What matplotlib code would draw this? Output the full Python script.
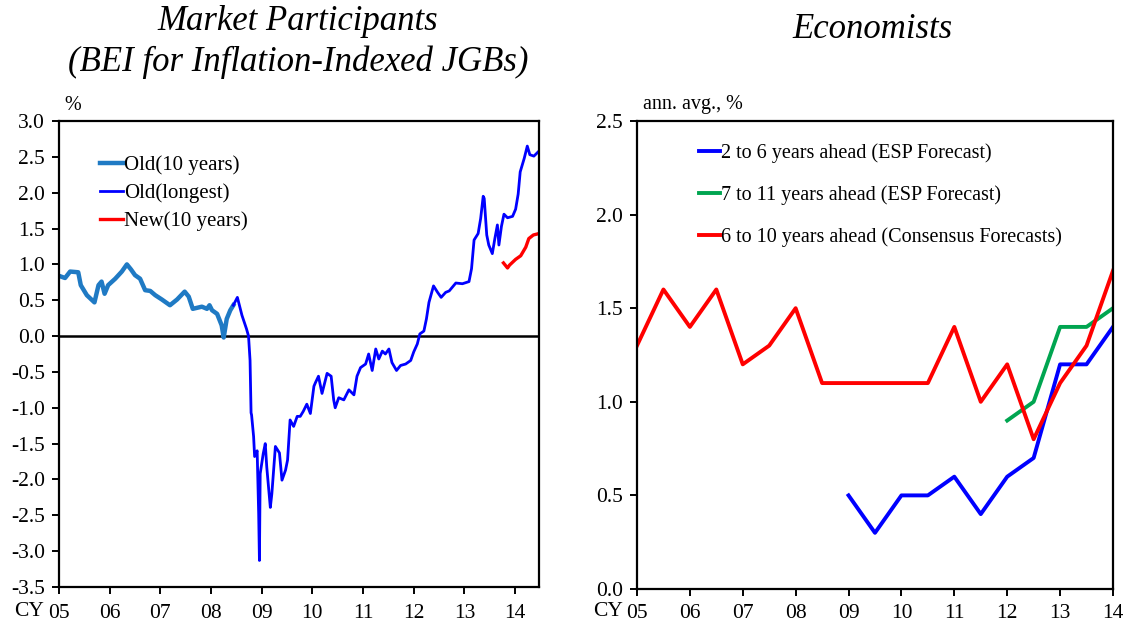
import matplotlib

matplotlib.use("Agg")
import matplotlib.pyplot as plt

plt.rcParams["font.family"] = ["Liberation Serif", "DejaVu Serif"]

# left panel: BEI (year, %)
old10_x = [2005.00, 2005.12, 2005.22, 2005.38, 2005.43, 2005.55, 2005.70, 2005.78, 2005.84, 2005.90,
           2005.97, 2006.11, 2006.24, 2006.34, 2006.42, 2006.50, 2006.60, 2006.70, 2006.80, 2006.90,
           2007.03, 2007.19, 2007.33, 2007.48, 2007.56, 2007.64, 2007.82, 2007.92, 2007.97, 2008.02,
           2008.12, 2008.21, 2008.25, 2008.31, 2008.38, 2008.44]
old10_y = [0.84, 0.81, 0.90, 0.89, 0.71, 0.57, 0.47, 0.71, 0.76, 0.59,
           0.71, 0.80, 0.90, 1.00, 0.93, 0.85, 0.80, 0.64, 0.63, 0.57,
           0.51, 0.43, 0.51, 0.62, 0.55, 0.38, 0.41, 0.38, 0.43, 0.36,
           0.31, 0.15, -0.02, 0.24, 0.36, 0.43]

longest_x = [2008.44, 2008.52, 2008.61, 2008.70, 2008.74, 2008.77, 2008.79, 2008.80, 2008.84, 2008.86,
             2008.91, 2008.94, 2008.955, 2008.97, 2009.03, 2009.07, 2009.10, 2009.17, 2009.20, 2009.27,
             2009.35, 2009.40, 2009.47, 2009.51, 2009.56, 2009.63, 2009.70, 2009.76, 2009.82, 2009.89,
             2009.96, 2010.03, 2010.06, 2010.12, 2010.19, 2010.29, 2010.37, 2010.42, 2010.45, 2010.52,
             2010.62, 2010.72, 2010.82, 2010.88, 2010.95, 2011.05, 2011.11, 2011.18, 2011.25, 2011.31,
             2011.38, 2011.44, 2011.51, 2011.57, 2011.66, 2011.74, 2011.84, 2011.94, 2012.00, 2012.07,
             2012.12, 2012.20, 2012.25, 2012.30, 2012.39, 2012.47, 2012.54, 2012.63, 2012.70, 2012.83,
             2012.96, 2013.09, 2013.14, 2013.19, 2013.27, 2013.32, 2013.37, 2013.39, 2013.44, 2013.48,
             2013.55, 2013.60, 2013.65, 2013.68, 2013.73, 2013.78, 2013.85, 2013.95, 2014.01, 2014.06,
             2014.10, 2014.18, 2014.24, 2014.29, 2014.37, 2014.47]
longest_y = [0.43, 0.54, 0.29, 0.10, 0.00, -0.34, -1.07, -1.10, -1.40, -1.68,
             -1.60, -2.48, -3.13, -1.92, -1.64, -1.50, -1.83, -2.39, -2.20, -1.54,
             -1.63, -2.01, -1.87, -1.73, -1.17, -1.26, -1.12, -1.12, -1.05, -0.95,
             -1.08, -0.70, -0.65, -0.56, -0.80, -0.52, -0.56, -0.89, -1.00, -0.86,
             -0.89, -0.75, -0.82, -0.56, -0.44, -0.39, -0.25, -0.48, -0.18, -0.32,
             -0.21, -0.25, -0.18, -0.37, -0.48, -0.41, -0.39, -0.34, -0.22, -0.11,
             0.03, 0.07, 0.24, 0.47, 0.70, 0.61, 0.54, 0.61, 0.63, 0.74,
             0.73, 0.76, 0.94, 1.34, 1.43, 1.64, 1.95, 1.92, 1.41, 1.27,
             1.15, 1.36, 1.55, 1.27, 1.53, 1.70, 1.65, 1.67, 1.77, 1.98,
             2.29, 2.48, 2.65, 2.53, 2.51, 2.58]

new10_x = [2013.77, 2013.85, 2013.89, 2014.01, 2014.11, 2014.21, 2014.27, 2014.36, 2014.47]
new10_y = [1.02, 0.95, 0.99, 1.07, 1.12, 1.24, 1.36, 1.41, 1.43]

# right panel: survey forecasts, semi-annual
cons_x = [2005.0, 2005.5, 2006.0, 2006.5, 2007.0, 2007.5, 2008.0, 2008.5, 2009.0, 2009.5,
          2010.0, 2010.5, 2011.0, 2011.5, 2012.0, 2012.5, 2013.0, 2013.5, 2014.0]
cons_y = [1.3, 1.6, 1.4, 1.6, 1.2, 1.3, 1.5, 1.1, 1.1, 1.1,
          1.1, 1.1, 1.4, 1.0, 1.2, 0.8, 1.1, 1.3, 1.7]
esp26_x = [2009.0, 2009.5, 2010.0, 2010.5, 2011.0, 2011.5, 2012.0, 2012.5, 2013.0, 2013.5, 2014.0]
esp26_y = [0.5, 0.3, 0.5, 0.5, 0.6, 0.4, 0.6, 0.7, 1.2, 1.2, 1.4]
esp711_x = [2012.0, 2012.5, 2013.0, 2013.5, 2014.0]
esp711_y = [0.9, 1.0, 1.4, 1.4, 1.5]

years = list(range(2005, 2015))
year_labels = [f"{y % 100:02d}" for y in years]

fig = plt.figure(figsize=(11.32, 6.24), dpi=100)
ax1 = fig.add_axes([0.0521, 0.0593, 0.4240, 0.7468])
ax2 = fig.add_axes([0.5627, 0.0561, 0.4205, 0.7500])

ax1.plot(old10_x, old10_y, color="#1f7ac4", lw=3.2, label="Old(10 years)")
ax1.plot(longest_x, longest_y, color="#0000ff", lw=2.0, label="Old(longest)")
ax1.plot(new10_x, new10_y, color="#ff0000", lw=2.4, label="New(10 years)")
ax1.axhline(0, color="black", lw=1.8, zorder=1)
ax1.set_xlim(2005, 2014.47)
ax1.set_ylim(-3.5, 3.0)
ax1.set_yticks([-3.5 + 0.5 * i for i in range(14)])
ax1.set_yticklabels([f"{-3.5 + 0.5 * i:.1f}" for i in range(14)])
ax1.legend(loc="upper left", bbox_to_anchor=(0.085, 0.926), frameon=False, fontsize=15,
           handlelength=1.1, handletextpad=0.05, labelspacing=0.4, borderpad=0, borderaxespad=0)

ax2.plot(esp26_x, esp26_y, color="#0000ff", lw=2.8, label="2 to 6 years ahead (ESP Forecast)")
ax2.plot(esp711_x, esp711_y, color="#00a550", lw=2.8, label="7 to 11 years ahead (ESP Forecast)")
ax2.plot(cons_x, cons_y, color="#ff0000", lw=2.8, label="6 to 10 years ahead (Consensus Forecasts)")
ax2.set_xlim(2005, 2014)
ax2.set_ylim(0, 2.5)
ax2.set_yticks([0.0, 0.5, 1.0, 1.5, 2.0, 2.5])
ax2.set_yticklabels(["0.0", "0.5", "1.0", "1.5", "2.0", "2.5"])
ax2.legend(loc="upper left", bbox_to_anchor=(0.13, 0.952), frameon=False, fontsize=14.5,
           handlelength=1.05, handletextpad=0.05, labelspacing=1.1, borderpad=0, borderaxespad=0)

for ax in (ax1, ax2):
    ax.set_xticks(years)
    ax.set_xticklabels(year_labels)
    ax.tick_params(direction="out", length=5, width=1.4, labelsize=15.5, colors="black", pad=5)
for ax, xpad in ((ax1, 7), (ax2, 6)):
    ax.tick_params(axis="x", pad=xpad)
    for s in ax.spines.values():
        s.set_linewidth(1.6)
        s.set_color("black")

fig.text(298 / 1132, 1 - 22 / 624, "Market Participants", fontsize=25, style="italic",
         ha="center", va="center")
fig.text(298 / 1132, 1 - 62 / 624, "(BEI for Inflation-Indexed JGBs)", fontsize=25, style="italic",
         ha="center", va="center")
fig.text(872 / 1132, 1 - 30 / 624, "Economists", fontsize=25, style="italic", ha="center", va="center")
fig.text(64 / 1132, 1 - 105 / 624, "%", fontsize=14.5, va="center")
fig.text(643 / 1132, 1 - 104 / 624, "ann. avg., %", fontsize=14.5, va="center")
fig.text(14 / 1132, 1 - 612 / 624, "CY", fontsize=15.5, va="center")
fig.text(593 / 1132, 1 - 611 / 624, "CY", fontsize=15.5, va="center")

fig.savefig("out.png", dpi=100)
plt.close(fig)
